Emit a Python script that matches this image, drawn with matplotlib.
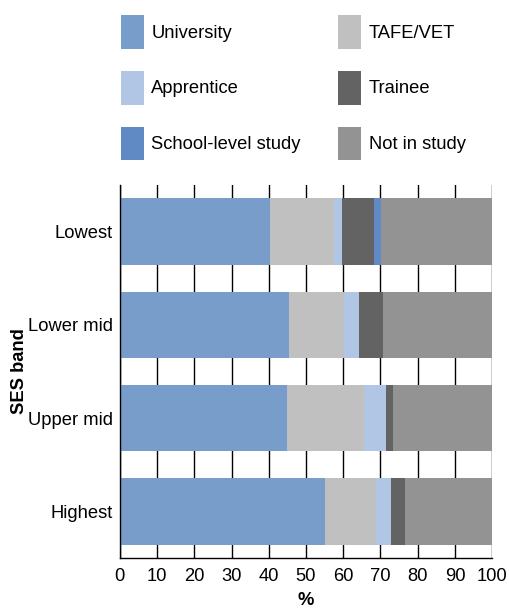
import matplotlib
matplotlib.use('Agg')
import matplotlib.pyplot as plt
from matplotlib.patches import Patch

plt.rcParams['font.family'] = ['Liberation Sans', 'DejaVu Sans']

bands = ['Lowest', 'Lower mid', 'Upper mid', 'Highest']
university = [40.3, 45.4, 44.9, 55.0]
tafe = [17.2, 14.8, 20.6, 13.8]
apprentice = [2.2, 4.0, 6.1, 3.9]
trainee = [8.5, 6.5, 1.8, 3.8]
school = [2.0, 0.0, 0.0, 0.0]
not_study = [29.8, 29.3, 26.6, 23.5]

series = [
    ('University', university, '#789dcb'),
    ('TAFE/VET', tafe, '#c0c0c0'),
    ('Apprentice', apprentice, '#b0c6e4'),
    ('Trainee', trainee, '#636363'),
    ('School-level study', school, '#5f8ac3'),
    ('Not in study', not_study, '#939393'),
]

fig = plt.figure(figsize=(5.1, 6.1), dpi=100)
ax = fig.add_axes([0.235, 0.085, 0.73, 0.612])

ypos = list(range(len(bands)))
left = [0.0] * len(bands)
for name, vals, col in series:
    ax.barh(ypos, vals, left=left, height=0.71, color=col, zorder=2)
    left = [l + v for l, v in zip(left, vals)]

fs = 13.2
ax.set_xlim(0, 100)
ax.set_ylim(3.5, -0.5)
ax.set_xticks(range(0, 101, 10))
ax.set_yticks(ypos)
ax.set_yticklabels(bands)
ax.tick_params(axis='both', labelsize=fs, length=0)
ax.tick_params(axis='y', pad=5)
ax.tick_params(axis='x', pad=7)
ax.grid(axis='x', color='black', linewidth=1, zorder=0)
for s in ['top', 'right']:
    ax.spines[s].set_visible(False)
ax.spines['left'].set_linewidth(1)
ax.spines['bottom'].set_linewidth(1)
ax.set_xlabel('%', fontsize=fs, fontweight='bold', labelpad=5)
ax.set_ylabel('SES band', fontsize=fs, fontweight='bold', labelpad=0)

order = [0, 2, 4, 1, 3, 5]
handles = [Patch(facecolor=series[i][2], edgecolor='none', label=series[i][0]) for i in order]
fig.legend(handles=handles, ncol=2, loc='upper left', bbox_to_anchor=(0.205, 1.002),
           frameon=False, fontsize=fs, handlelength=1.25, handleheight=2.45,
           handletextpad=0.4, columnspacing=2.05, labelspacing=1.2)

fig.savefig('out.png', dpi=100)
